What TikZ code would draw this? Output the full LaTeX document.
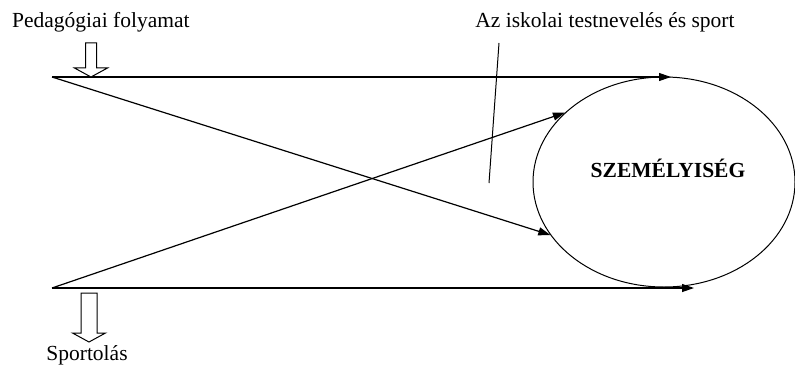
\documentclass[tikz,border=0pt]{standalone}
\usepackage{fontspec}
\setmainfont{Liberation Serif}
\usetikzlibrary{arrows.meta, calc, positioning, shapes.geometric}

\tikzset{
  flow/.style={line width=1.2pt, -{Triangle[length=12pt,width=8pt]}},
  lbl/.style={font=\fontsize{21.5}{26}\selectfont, inner sep=0pt},
  hollow/.style={line width=1pt, fill=white}
}
% hollow down arrow: centre x, top y, tip y, shaft half width
\newcommand{\hollowdown}[4]{%
  \draw[hollow] ($(#1-#4,#2)$) -- ($(#1+#4,#2)$) -- ($(#1+#4,#3-9)$)
    -- ($(#1+16.5,#3-9)$) -- (#1,#3) -- ($(#1-16.5,#3-9)$)
    -- ($(#1-#4,#3-9)$) -- cycle;}

\begin{document}
\begin{tikzpicture}[x=1pt, y=-1pt]
\useasboundingbox (0,0) rectangle (795,369);

% ---- labels ----
\node[lbl, anchor=west] (ped) at (12,22) {Pedagógiai folyamat};
\node[lbl] (isk) at (605,22) {Az iskolai testnevelés és sport};
\node[lbl] (spo) at (87,355) {Sportolás};

% ---- personality ----
\node[ellipse, draw, line width=1pt, minimum width=262pt,
      minimum height=210pt, inner sep=0pt] (pers) at (664,182) {};
\node[lbl, font=\fontsize{21.5}{26}\selectfont\bfseries] (szem)
  at (668,168) {SZEMÉLYISÉG};

% ---- flows ----
\coordinate (tl) at (52,77);
\coordinate (bl) at (52,288);
\coordinate (tend) at (671,77);
\coordinate (bend) at (694,288);
\draw[flow] (tl) -- (tend);
\draw[flow] (bl) -- (bend);
\draw[flow] (tl) -- (pers.205.8);
\draw[flow] (bl) -- (pers.145.1);

% ---- pointer line ----
\coordinate (ptop) at (499,43);
\coordinate (pbot) at (489,183);
\draw[line width=1pt] (ptop) -- (pbot);

% ---- hollow arrows ----
\hollowdown{91}{43}{77}{5.5}
\hollowdown{89}{293}{342}{8}

\end{tikzpicture}
\end{document}
